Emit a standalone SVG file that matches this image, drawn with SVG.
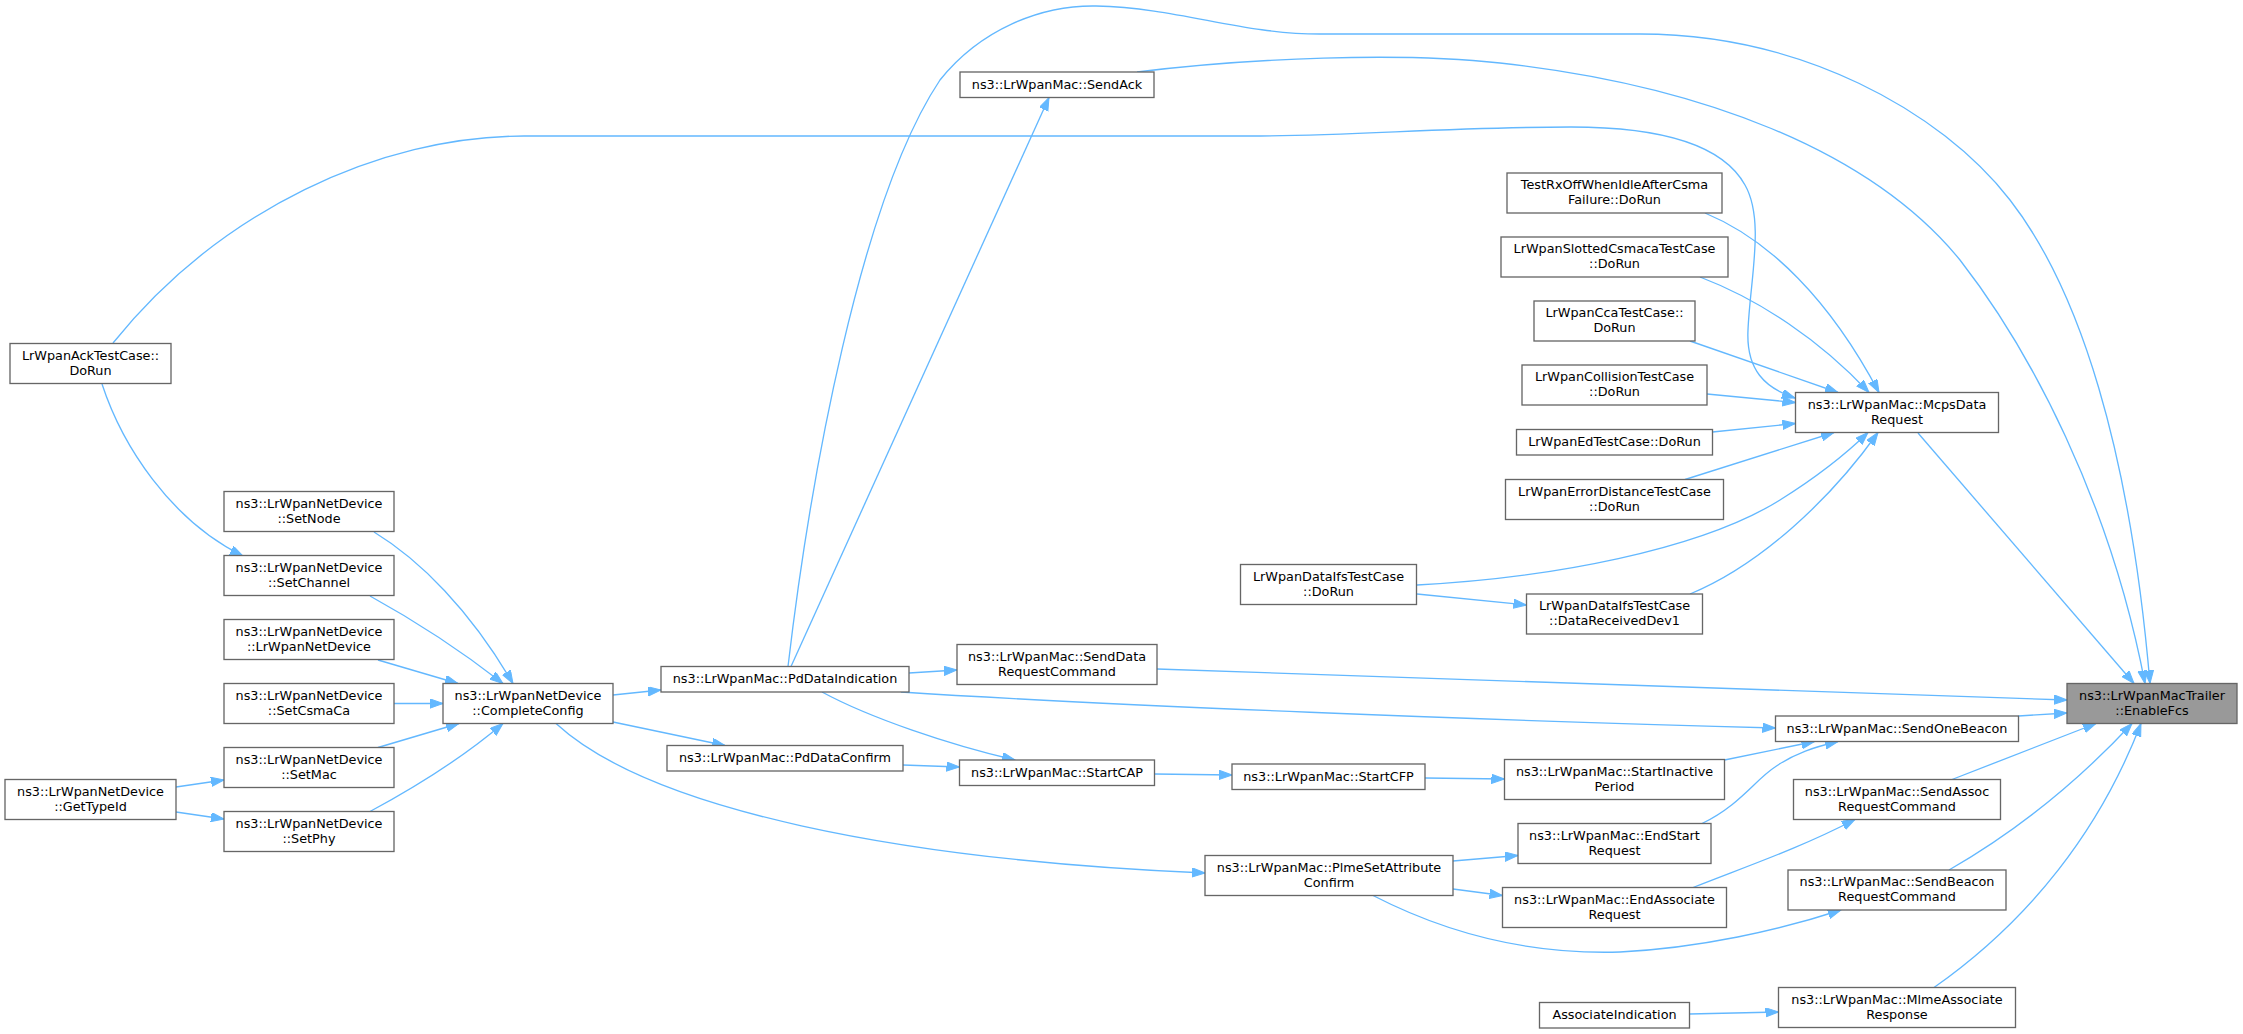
<svg xmlns="http://www.w3.org/2000/svg" width="2243" height="1034" viewBox="0 0 2243 1034">
<style>
.node rect{fill:#ffffff;stroke:#666666;stroke-width:1.33}
.node.hl rect{fill:#999999}
.node text{font-family:"DejaVu Sans","Liberation Sans",sans-serif;font-size:12.8px;text-anchor:middle;fill:#000000}
.edges path{fill:none;stroke:#63b8ff;stroke-width:1.33;marker-end:url(#arr)}
</style>
<defs>
<marker id="arr" markerUnits="userSpaceOnUse" markerWidth="14" markerHeight="10" refX="13" refY="4.65" orient="auto">
<path d="M0,0 L13,4.65 L0,9.3 z" fill="#63b8ff" stroke="#63b8ff" stroke-width="1"/>
</marker>
</defs>
<rect x="0" y="0" width="2243" height="1034" fill="#ffffff"/>
<g id="edges" class="edges">
<path d="M102,384 C122,445 170,520 243,556"/>
<path d="M113,343 C220,210 380,136 524,136 L1250,136 C1350,136 1450,127 1571,127 C1650,127 1720,140 1745,185 C1765,220 1750,280 1748,330 C1746,370 1765,388 1795,398"/>
<path d="M176,787 L224,780"/>
<path d="M176,812 L224,819"/>
<path d="M374,532 C420,560 470,610 513,683.5"/>
<path d="M370,596 C410,618 460,650 503,683.5"/>
<path d="M378,660 L458,683.5"/>
<path d="M394,703.5 L443,703.5"/>
<path d="M378,747.5 L459,723.5"/>
<path d="M370,811.5 C410,790 460,760 503,723.5"/>
<path d="M613,695 L661,690"/>
<path d="M613,722 L725,745.5"/>
<path d="M556,723.5 C650,810 900,860 1205,873"/>
<path d="M791,666.5 L1049,97.5"/>
<path d="M788,666.5 C810,480 860,200 940,80 C980,30 1040,5 1096,6 C1180,8 1240,34 1320,34 L1640,34 C1800,34 1940,110 2010,200 C2080,290 2130,450 2150,683.5"/>
<path d="M1137,72 C1250,58 1400,52 1500,63 C1700,85 1870,150 1960,260 C2030,350 2110,500 2145,683.5"/>
<path d="M1918,433 L2134,683.5"/>
<path d="M909,673 L957,670"/>
<path d="M822,692 C870,718 950,745 1015,760"/>
<path d="M901,692 C1100,705 1500,721 1775.5,728"/>
<path d="M903,765 L959.5,767"/>
<path d="M1154.5,774 L1232,775"/>
<path d="M1425,778 L1504.5,779"/>
<path d="M1453,861 L1518,855.5"/>
<path d="M1453,889 L1502.5,895.5"/>
<path d="M1373,895.5 C1440,930 1520,955 1620,952 C1700,948 1780,930 1841,910"/>
<path d="M1157,669 L2067,700"/>
<path d="M1417,585 C1550,578 1700,550 1780,500 C1820,475 1850,450 1868,432.5"/>
<path d="M1417,594 L1526.5,605"/>
<path d="M1690,594 C1760,565 1830,500 1878,432.5"/>
<path d="M1685,479.5 L1834,432.5"/>
<path d="M1712.5,432 L1795.5,423.5"/>
<path d="M1707,394 L1795.5,402.5"/>
<path d="M1690,341 L1838,392.5"/>
<path d="M1700,277 C1760,300 1820,340 1869,392.5"/>
<path d="M1705,213 C1770,240 1830,300 1879,392.5"/>
<path d="M2018.5,716 L2067,713"/>
<path d="M1724.5,760 L1814.5,741.5"/>
<path d="M1702,823.5 C1740,805 1755,780 1775,767 C1795,753 1815,747 1838,741.5"/>
<path d="M1693,887.5 C1750,865 1800,848 1855,819.5"/>
<path d="M1952,779.5 L2096,723.5"/>
<path d="M1949,870 C2010,835 2070,790 2132,723.5"/>
<path d="M1934,987.5 C2030,920 2100,830 2141,723.5"/>
<path d="M1689.5,1014 L1778.5,1012"/>
</g>
<g id="n_acktestcase" class="node"><rect x="10" y="343.5" width="161" height="40"/><text x="90.5" y="359.8">LrWpanAckTestCase::</text><text x="90.5" y="374.8">DoRun</text></g>
<g id="n_gettypeid" class="node"><rect x="5" y="779.5" width="171" height="40"/><text x="90.5" y="795.8">ns3::LrWpanNetDevice</text><text x="90.5" y="810.8">::GetTypeId</text></g>
<g id="n_setnode" class="node"><rect x="224" y="491.5" width="170" height="40"/><text x="309" y="507.8">ns3::LrWpanNetDevice</text><text x="309" y="522.8">::SetNode</text></g>
<g id="n_setchannel" class="node"><rect x="224" y="555.5" width="170" height="40"/><text x="309" y="571.8">ns3::LrWpanNetDevice</text><text x="309" y="586.8">::SetChannel</text></g>
<g id="n_lrwpannetdevice" class="node"><rect x="224" y="619.5" width="170" height="40"/><text x="309" y="635.8">ns3::LrWpanNetDevice</text><text x="309" y="650.8">::LrWpanNetDevice</text></g>
<g id="n_setcsmaca" class="node"><rect x="224" y="683.5" width="170" height="40"/><text x="309" y="699.8">ns3::LrWpanNetDevice</text><text x="309" y="714.8">::SetCsmaCa</text></g>
<g id="n_setmac" class="node"><rect x="224" y="747.5" width="170" height="40"/><text x="309" y="763.8">ns3::LrWpanNetDevice</text><text x="309" y="778.8">::SetMac</text></g>
<g id="n_setphy" class="node"><rect x="224" y="811.5" width="170" height="40"/><text x="309" y="827.8">ns3::LrWpanNetDevice</text><text x="309" y="842.8">::SetPhy</text></g>
<g id="n_completeconfig" class="node"><rect x="443" y="683.5" width="170" height="40"/><text x="528" y="699.8">ns3::LrWpanNetDevice</text><text x="528" y="714.8">::CompleteConfig</text></g>
<g id="n_pddataindication" class="node"><rect x="661" y="666.5" width="248" height="25.5"/><text x="785" y="683">ns3::LrWpanMac::PdDataIndication</text></g>
<g id="n_pddataconfirm" class="node"><rect x="667" y="745.5" width="236" height="25.5"/><text x="785" y="762">ns3::LrWpanMac::PdDataConfirm</text></g>
<g id="n_sendack" class="node"><rect x="960" y="72" width="194" height="25.5"/><text x="1057" y="88.5">ns3::LrWpanMac::SendAck</text></g>
<g id="n_senddatarequestcommand" class="node"><rect x="957" y="644.5" width="200" height="40"/><text x="1057" y="660.8">ns3::LrWpanMac::SendData</text><text x="1057" y="675.8">RequestCommand</text></g>
<g id="n_startcap" class="node"><rect x="959.5" y="760" width="195" height="25.5"/><text x="1057" y="776.5">ns3::LrWpanMac::StartCAP</text></g>
<g id="n_startcfp" class="node"><rect x="1232" y="764" width="193" height="25.5"/><text x="1328.5" y="780.5">ns3::LrWpanMac::StartCFP</text></g>
<g id="n_plmesetattributeconfirm" class="node"><rect x="1205" y="855.5" width="248" height="40"/><text x="1329" y="871.8">ns3::LrWpanMac::PlmeSetAttribute</text><text x="1329" y="886.8">Confirm</text></g>
<g id="n_dataifs_dorun" class="node"><rect x="1240.5" y="564.5" width="176" height="40"/><text x="1328.5" y="580.8">LrWpanDataIfsTestCase</text><text x="1328.5" y="595.8">::DoRun</text></g>
<g id="n_testrxoff" class="node"><rect x="1507" y="173" width="215" height="40"/><text x="1614.5" y="189.3">TestRxOffWhenIdleAfterCsma</text><text x="1614.5" y="204.3">Failure::DoRun</text></g>
<g id="n_slotted" class="node"><rect x="1501" y="237" width="227" height="40"/><text x="1614.5" y="253.3">LrWpanSlottedCsmacaTestCase</text><text x="1614.5" y="268.3">::DoRun</text></g>
<g id="n_cca" class="node"><rect x="1534" y="301" width="161" height="40"/><text x="1614.5" y="317.3">LrWpanCcaTestCase::</text><text x="1614.5" y="332.3">DoRun</text></g>
<g id="n_collision" class="node"><rect x="1522" y="365" width="185" height="40"/><text x="1614.5" y="381.3">LrWpanCollisionTestCase</text><text x="1614.5" y="396.3">::DoRun</text></g>
<g id="n_ed" class="node"><rect x="1516.5" y="429.5" width="196" height="25.5"/><text x="1614.5" y="446">LrWpanEdTestCase::DoRun</text></g>
<g id="n_errordistance" class="node"><rect x="1505.5" y="479.5" width="218" height="40"/><text x="1614.5" y="495.8">LrWpanErrorDistanceTestCase</text><text x="1614.5" y="510.8">::DoRun</text></g>
<g id="n_datareceiveddev1" class="node"><rect x="1526.5" y="594" width="176" height="40"/><text x="1614.5" y="610.3">LrWpanDataIfsTestCase</text><text x="1614.5" y="625.3">::DataReceivedDev1</text></g>
<g id="n_startinactiveperiod" class="node"><rect x="1504.5" y="759.5" width="220" height="40"/><text x="1614.5" y="775.8">ns3::LrWpanMac::StartInactive</text><text x="1614.5" y="790.8">Period</text></g>
<g id="n_endstartrequest" class="node"><rect x="1518" y="823.5" width="193" height="40"/><text x="1614.5" y="839.8">ns3::LrWpanMac::EndStart</text><text x="1614.5" y="854.8">Request</text></g>
<g id="n_endassociaterequest" class="node"><rect x="1502.5" y="887.5" width="224" height="40"/><text x="1614.5" y="903.8">ns3::LrWpanMac::EndAssociate</text><text x="1614.5" y="918.8">Request</text></g>
<g id="n_associateindication" class="node"><rect x="1539.5" y="1002.5" width="150" height="25.5"/><text x="1614.5" y="1019">AssociateIndication</text></g>
<g id="n_mcpsdatarequest" class="node"><rect x="1795.5" y="392.5" width="203" height="40"/><text x="1897" y="408.8">ns3::LrWpanMac::McpsData</text><text x="1897" y="423.8">Request</text></g>
<g id="n_sendonebeacon" class="node"><rect x="1775.5" y="716" width="243" height="25.5"/><text x="1897" y="732.5">ns3::LrWpanMac::SendOneBeacon</text></g>
<g id="n_sendassocrequestcommand" class="node"><rect x="1793.5" y="779.5" width="207" height="40"/><text x="1897" y="795.8">ns3::LrWpanMac::SendAssoc</text><text x="1897" y="810.8">RequestCommand</text></g>
<g id="n_sendbeaconrequestcommand" class="node"><rect x="1788" y="870" width="218" height="40"/><text x="1897" y="886.3">ns3::LrWpanMac::SendBeacon</text><text x="1897" y="901.3">RequestCommand</text></g>
<g id="n_mlmeassociateresponse" class="node"><rect x="1778.5" y="987.5" width="237" height="40"/><text x="1897" y="1003.8">ns3::LrWpanMac::MlmeAssociate</text><text x="1897" y="1018.8">Response</text></g>
<g id="n_enablefcs" class="node hl"><rect x="2067" y="683.5" width="170" height="40"/><text x="2152" y="699.8">ns3::LrWpanMacTrailer</text><text x="2152" y="714.8">::EnableFcs</text></g>
</svg>
